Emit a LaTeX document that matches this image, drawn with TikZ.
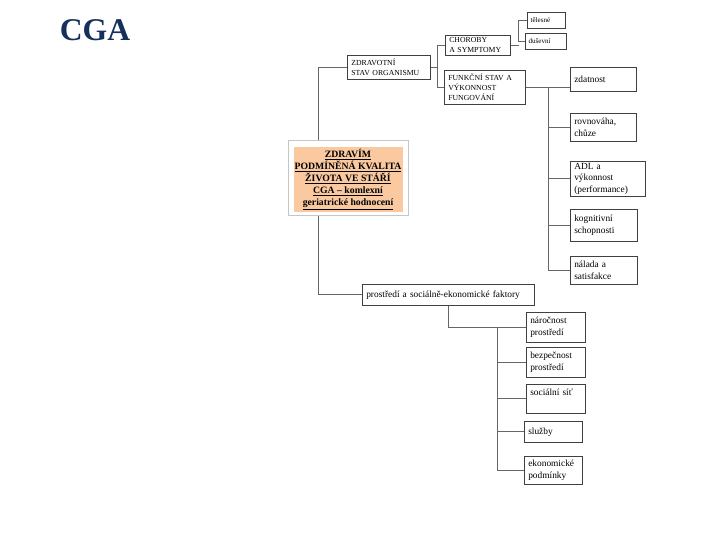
\documentclass[tikz,border=0pt]{standalone}
\usepackage{fontspec}
\setmainfont{Liberation Serif}
\usepackage{tikz}
\usetikzlibrary{positioning,
backgrounds,
calc}

\definecolor{cganavy}{RGB}{22,48,92}
\definecolor{cgapeach}{RGB}{250,201,160}

\begin{document}
\begin{tikzpicture}[
		x=0.03cm, y=-0.03cm,
		box/.style={
			draw=black!75,
			line width=0.5pt,
			anchor=north west,
			align=left,
			inner xsep=0.12cm,
			inner ysep=0.05cm,
			font=\fontsize{8}{10}\selectfont
		},
		capsbox/.style={
			box,
			font=\fontsize{6.6}{8.8}\selectfont
		},
		tinybox/.style={
			box,
			inner xsep=0.1cm,
			font=\fontsize{6}{7}\selectfont
		},
		link/.style={
			draw=black!60,
			line width=0.6pt
		}
		]
		\useasboundingbox (0,0) rectangle (720,540);
		
		% Title
		\node[font=\fontsize{27}{30}\selectfont\bfseries, text=cganavy] (title) at (95,30) {CGA};
		
		% Centre
		\node[draw=gray!45, line width=0.8pt, fill=white, minimum width=3.6cm, minimum height=2.25cm] (cgaframe) at (348,177.5) {};
		\node[fill=cgapeach, minimum width=3.27cm, minimum height=1.95cm, align=center, inner sep=0pt,
			font=\fontsize{8.3}{10.4}\selectfont\bfseries] (cga) at ([yshift=-0.06cm]cgaframe.center)
		{\underline{ZDRAVÍM}\\\underline{PODMÍNĚNÁ KVALITA}\\\underline{ŽIVOTA VE STÁŘÍ}\\\underline{CGA – komlexní}\\\underline{geriatrické hodnocení}};
		
		% Health branch
		\node[capsbox, text width=2.25cm, minimum height=0.72cm] (zdravotni) at (347,55)
		{ZDRAVOTNÍ\\STAV ORGANISMU};
		\node[capsbox, text width=1.71cm, minimum height=0.6cm] (choroby) at (445,35)
		{CHOROBY\\A SYMPTOMY};
		\node[capsbox, text width=2.19cm, minimum height=1.02cm] (funkcni) at (444,70)
		{FUNKČNÍ STAV A\\VÝKONNOST\\FUNGOVÁNÍ};
		\node[tinybox, text width=0.94cm, minimum height=0.48cm] (telesne) at (527,12) {tělesné};
		\node[tinybox, text width=1.03cm, minimum height=0.48cm] (dusevni) at (525,33) {duševní};
		
		% Function items
		\node[box, text width=1.74cm, minimum height=0.72cm] (zdatnost) at (570,67) {zdatnost};
		\node[box, text width=1.74cm, minimum height=0.84cm] (rovnovaha) at (570,113) {rovnováha,\\chůze};
		\node[box, text width=2.01cm, minimum height=1.05cm] (adl) at (570,161) {ADL a\\výkonnost\\(performance)};
		\node[box, text width=1.77cm, minimum height=0.96cm] (kognitivni) at (570,209) {kognitivní\\schopnosti};
		\node[box, text width=1.77cm, minimum height=0.84cm] (nalada) at (570,256) {nálada a\\satisfakce};
		
		% Environment branch
		\node[box, text width=4.92cm, minimum height=0.63cm] (prostredi) at (362,284)
		{prostředí a sociálně-ekonomické faktory};
		\node[box, text width=1.53cm, minimum height=0.9cm] (narocnost) at (526,312) {náročnost\\prostředí};
		\node[box, text width=1.53cm, minimum height=0.9cm] (bezpecnost) at (526,347) {bezpečnost\\prostředí};
		\node[box, text width=1.53cm, minimum height=0.87cm, text depth=12pt] (socialni) at (526,384) {sociální síť};
		\node[box, text width=1.5cm, minimum height=0.63cm] (sluzby) at (524,421) {služby};
		\node[box, text width=1.5cm, minimum height=0.84cm] (ekonomicke) at (524,456) {ekonomické\\podmínky};
		
		% Connections
		\begin{scope}[on background layer]
			\draw[link] (zdravotni.west) -- ++(-29,0) |- (prostredi.west);
			
			\draw[link] (zdravotni.east) -- ++(7,0);
			\draw[link] (choroby.west) -- ++(-8,0) |- (funkcni.west);
			\draw[link] (choroby.east) -- ++(8,0);
			\draw[link] (telesne.west) -- ++(-9,0) |- (dusevni.west);
			
			\draw[link] (funkcni.east) -- (funkcni.east -| zdatnost.west);
			\path (funkcni.east) ++(23,0) coordinate (fbranch);
			\draw[link] (fbranch) |- (nalada.west);
			\foreach \n in {rovnovaha, adl, kognitivni}
			\draw[link] (fbranch |- \n.west) -- (\n.west);
			
			\draw[link] (prostredi.south) |- (narocnost.west);
			\path (narocnost.west) ++(-29,0) coordinate (pbranch);
			\draw[link] (pbranch) |- (ekonomicke.west);
			\foreach \n in {bezpecnost, socialni, sluzby}
			\draw[link] (pbranch |- \n.west) -- (\n.west);
		\end{scope}
		
	\end{tikzpicture}
\end{document}
